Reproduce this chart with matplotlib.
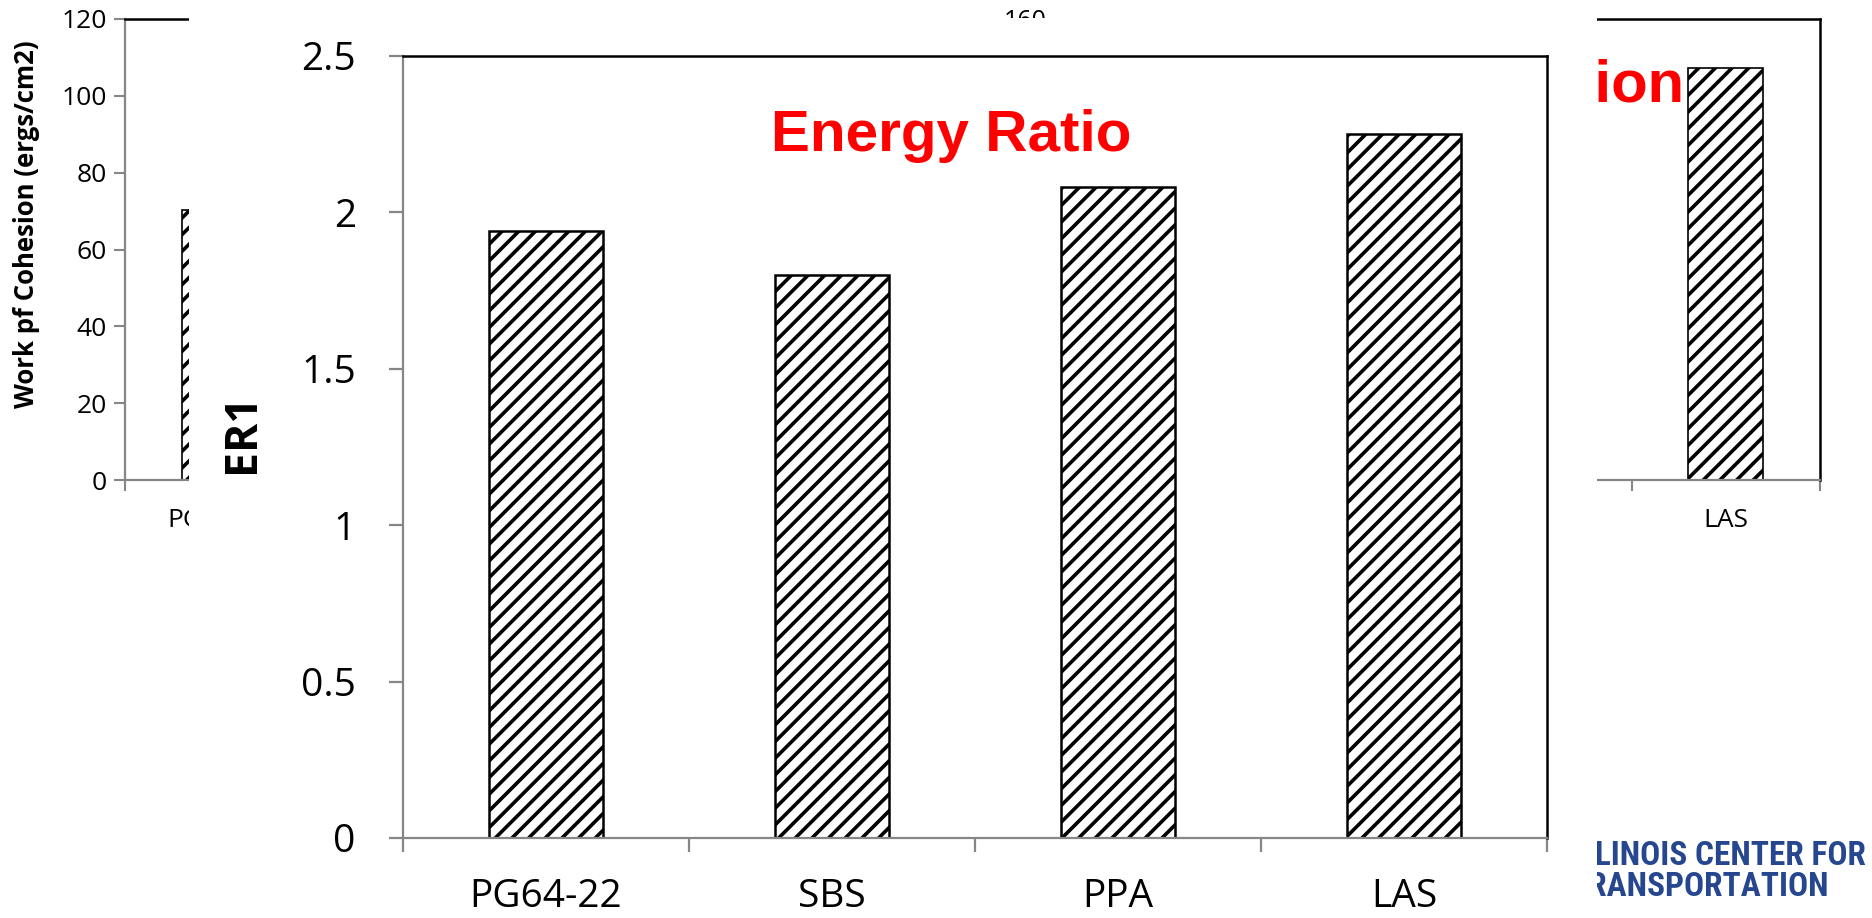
import numpy as np
import matplotlib
matplotlib.use('Agg')
from matplotlib import pyplot as plt
from matplotlib import font_manager
from matplotlib.patches import Rectangle
from matplotlib.ticker import FixedLocator, FormatStrFormatter, NullFormatter

plt.rcParams['font.family'] = ['Open Sans', 'DejaVu Sans']
plt.rcParams['hatch.linewidth'] = 2.6

W, H = 1872, 918

# front chart (Energy Ratio)
er_labels = ['PG64-22', 'SBS', 'PPA', 'LAS']
er_values = [1.94, 1.80, 2.08, 2.25]
er_ticks = [0, 0.5, 1, 1.5, 2, 2.5]

# chart behind it (Work of Cohesion), only first and last bar visible
wc_labels = ['PG64-22', '', '', '', '', '', '', '', 'LAS']
wc_values = [70.3, np.nan, np.nan, np.nan, np.nan, np.nan, np.nan, np.nan, 107.3]
wc_ticks = [0, 20, 40, 60, 80, 100, 120]

GRAY = '#868686'

# narrow font for the logo if one is there
installed = {f.name for f in font_manager.fontManager.ttflist}
logo_font = 'DejaVu Sans'
for name in ['Liberation Sans Narrow', 'Roboto Condensed', 'Open Sans Condensed']:
    if name in installed:
        logo_font = name
        break


def box(x0, y0, x1, y1):
    # pixel box -> figure fraction
    return [x0 / W, 1 - y1 / H, (x1 - x0) / W, (y1 - y0) / H]


def excel_style(ax, n):
    for s in ['left', 'bottom']:
        ax.spines[s].set_color(GRAY)
        ax.spines[s].set_linewidth(1.6)
    for s in ['top', 'right']:
        ax.spines[s].set_color('black')
        ax.spines[s].set_linewidth(1.8)
    ax.set_xlim(-0.5, n - 0.5)
    ax.xaxis.set_major_locator(FixedLocator(np.arange(n + 1) - 0.5))
    ax.xaxis.set_major_formatter(NullFormatter())
    ax.xaxis.set_minor_locator(FixedLocator(np.arange(n)))


fig = plt.figure(figsize=(W / 100, H / 100), dpi=100)

# ---- background chart
bg = fig.add_axes(box(125, 19, 1820, 480), zorder=0)
x = np.arange(len(wc_labels))
bg.bar(x, wc_values, width=0.4, color='white', edgecolor='black', linewidth=1.2, hatch='//')
excel_style(bg, len(wc_labels))
bg.set_ylim(0, 120)
bg.set_yticks(wc_ticks)
bg.xaxis.set_minor_formatter(plt.FixedFormatter(wc_labels))
bg.tick_params(axis='x', which='major', length=8, width=1.5, color=GRAY, direction='out')
bg.tick_params(axis='x', which='minor', length=0, pad=20, labelsize=19)
bg.tick_params(axis='y', length=8, width=1.5, color=GRAY, direction='out', pad=5, labelsize=19)
fig.text(27 / W, 1 - 224 / H, 'Work pf Cohesion (ergs/cm2)', rotation=90, ha='center', va='center',
         fontsize=18.5, fontweight='bold', zorder=0.3)
fig.text(1684 / W, 1 - 101 / H, 'Work of Cohesion', ha='right', va='baseline', color='red',
         fontsize=43, fontweight='bold', family='Liberation Sans', zorder=0.3)
fig.text(1025 / W, 1 - 9 / H, '160', ha='center', va='top', fontsize=18, zorder=0.3)
if logo_font == 'DejaVu Sans':
    logo_kw = dict(family='DejaVu Sans', fontstretch='condensed', fontsize=19)
else:
    logo_kw = dict(family=logo_font, fontsize=24)
fig.text(1866 / W, 1 - 840 / H, 'ILLINOIS CENTER FOR\nTRANSPORTATION', ha='right', va='top',
         multialignment='left', color='#26478f', fontweight='bold', linespacing=0.95,
         zorder=0.3, **logo_kw)

# white slide area of the front chart
fig.add_artist(Rectangle((189 / W, 0), (1597 - 189) / W, (H - 18) / H, transform=fig.transFigure,
                         facecolor='white', edgecolor='none', zorder=0.5))

# ---- front chart
ax = fig.add_axes(box(403, 56, 1547, 838), zorder=1)
x = np.arange(len(er_labels))
ax.bar(x, er_values, width=0.4, color='white', edgecolor='black', linewidth=1.8, hatch='//')
excel_style(ax, len(er_labels))
ax.set_ylim(0, 2.5)
ax.set_yticks(er_ticks)
ax.yaxis.set_major_formatter(FormatStrFormatter('%g'))
ax.xaxis.set_minor_formatter(plt.FixedFormatter(er_labels))
ax.tick_params(axis='x', which='major', length=10, width=1.6, color=GRAY, direction='out')
ax.tick_params(axis='x', which='minor', length=0, pad=29, labelsize=28)
ax.tick_params(axis='y', length=10, width=1.6, color=GRAY, direction='out', pad=24, labelsize=28)

fig.text(242 / W, 1 - 433 / H, 'ER1', rotation=90, ha='center', va='center',
         fontsize=32, fontweight='bold', zorder=2)
fig.text(951 / W, 1 - 151 / H, 'Energy Ratio', ha='center', va='baseline', color='red',
         fontsize=42, fontweight='bold', family='Liberation Sans', zorder=2)

fig.savefig('out.png', dpi=100, facecolor='white')
